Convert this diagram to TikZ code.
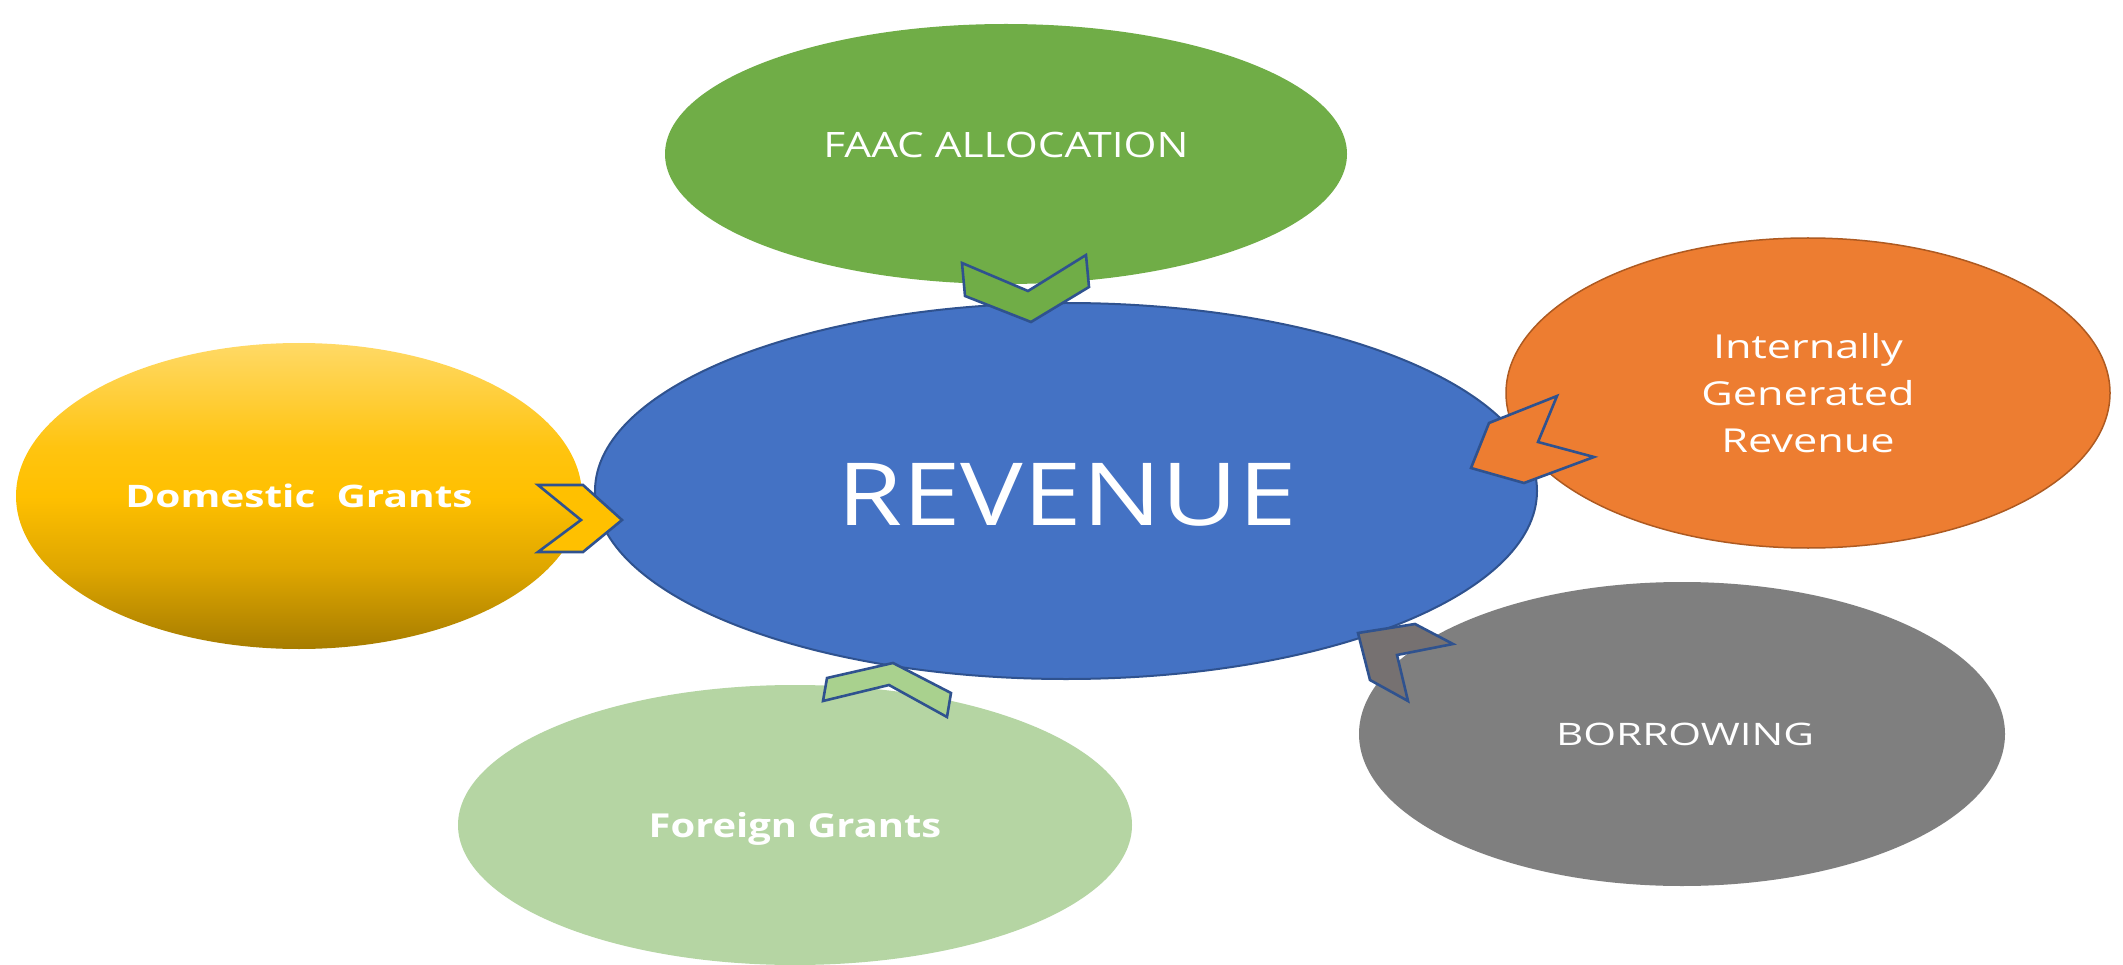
\documentclass[tikz,border=0pt]{standalone}
\usepackage{fontspec}
\setmainfont{Open Sans}
% wide-set variants of the main face for the bubble captions
\newfontfamily\wideA{Open Sans}[FakeStretch=1.21]
\newfontfamily\wideB{Open Sans}[FakeStretch=1.31]
\newfontfamily\wideC{Open Sans}[FakeStretch=1.36]
\usetikzlibrary{shapes.geometric}
\definecolor{faacgreen}{HTML}{70AD47}
\definecolor{revblue}{HTML}{4472C4}
\definecolor{edgeblue}{HTML}{2F528F}
\definecolor{igrorange}{HTML}{ED7D31}
\definecolor{igredge}{HTML}{AE5A21}
\definecolor{borrowgray}{HTML}{7F7F7F}
\definecolor{chevgray}{HTML}{767171}
\definecolor{foreigngreen}{HTML}{B5D5A3}
\definecolor{chevlightgreen}{HTML}{A9D18E}
\definecolor{goldmid}{HTML}{FFC000}
% golden vertical blend: dark at the bottom, light at the top
\pgfdeclareverticalshading{goldblend}{100bp}{%
  color(0bp)=(rgb,255:red,166;green,124;blue,0);
  color(25bp)=(rgb,255:red,166;green,124;blue,0);
  color(38bp)=(rgb,255:red,222;green,166;blue,0);
  color(50bp)=(rgb,255:red,255;green,192;blue,0);
  color(58bp)=(rgb,255:red,255;green,196;blue,16);
  color(75bp)=(rgb,255:red,255;green,217;blue,102);
  color(100bp)=(rgb,255:red,255;green,217;blue,102)}
\newcommand{\pxfont}[2]{\fontsize{#1}{#2}\selectfont}
\begin{document}
\begin{tikzpicture}[x=1pt,y=-1pt,
  bubble/.style={ellipse, inner sep=0pt, text=white, align=center},
  caption/.style={text=white, inner sep=0pt, anchor=base},
  chevron/.style={draw=edgeblue, line width=2.6pt, line join=miter}]
\useasboundingbox (0,0) rectangle (2123,965);
\fill[white] (0,0) rectangle (2123,965);

% source bubbles around the central revenue ellipse
\node[bubble, fill=faacgreen, minimum width=682pt, minimum height=260pt] (faac) at (1006,154) {};
\node[bubble, fill=igrorange, draw=igredge, line width=1.5pt,
      minimum width=604pt, minimum height=310pt,
      font=\wideB\pxfont{33}{47}] (igr) at (1808,393) {Internally\\Generated\\Revenue};
\node[bubble, shading=goldblend, minimum width=566pt, minimum height=306pt] (dom) at (299,496) {};
\node[bubble, fill=foreigngreen, minimum width=674pt, minimum height=280pt] (foreign) at (795,825) {};
\node[bubble, fill=borrowgray, minimum width=646pt, minimum height=304pt] (borrow) at (1682,734) {};

% central ellipse
\node[bubble, fill=revblue, draw=edgeblue, line width=2pt,
      minimum width=942pt, minimum height=376pt] (rev) at (1066,491) {};

% captions, set on their baselines
\node[caption, font=\wideA\pxfont{35}{42}] (faac-text) at (1006,158) {FAAC ALLOCATION};
\node[caption, font=\wideA\pxfont{87}{100}] (rev-text) at (1067,525) {REVENUE};
\node[caption, font=\wideB\bfseries\pxfont{31}{38}] (dom-text) at (299,507) {Domestic\ \ Grants};
\node[caption, font=\wideA\bfseries\pxfont{33}{40}] (foreign-text) at (795,837) {Foreign Grants};
\node[caption, font=\wideC\pxfont{31}{38}] (borrow-text) at (1685,745) {BORROWING};

% chevrons pointing into the revenue ellipse
\filldraw[chevron, fill=faacgreen]
  (962,263) -- (1028,291) -- (1086,255) -- (1089,287) -- (1031,322) -- (965,296) -- cycle;
\filldraw[chevron, fill=igrorange]
  (1557,396) -- (1538,442) -- (1594,457) -- (1524,483) -- (1471,468) -- (1489,423) -- cycle;
\filldraw[chevron, fill=chevgray]
  (1358,633) -- (1415,624) -- (1453,644) -- (1397,655) -- (1408,701) -- (1370,680) -- cycle;
\filldraw[chevron, fill=chevlightgreen]
  (827,678) -- (893,663) -- (951,693) -- (947,717) -- (889,685) -- (823,701) -- cycle;
\filldraw[chevron, fill=goldmid]
  (538,485) -- (583,485) -- (622,520) -- (583,552) -- (538,552) -- (581,520) -- cycle;
\end{tikzpicture}
\end{document}
